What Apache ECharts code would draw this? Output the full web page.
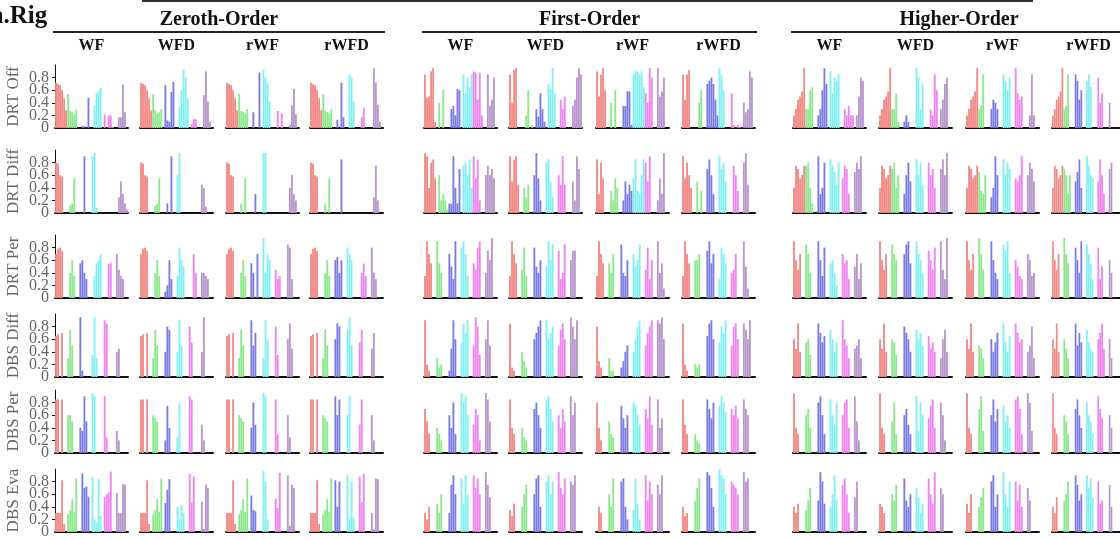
<!DOCTYPE html>
<html>
<head>
<meta charset="utf-8">
<script src="https://cdn.jsdelivr.net/npm/echarts@6/dist/echarts.min.js"></script>
<style>
  html, body { margin: 0; padding: 0; background: #fff; }
  #chart { width: 1120px; height: 540px; }
</style>
</head>
<body>
<div id="chart"></div>
<script>
// column / row labels
const orders = ["Zeroth-Order", "First-Order", "Higher-Order"];
const methods = ["WF", "WFD", "rWF", "rWFD"];
const rowNames = ["DRT Off", "DRT Diff", "DRT Per", "DBS Diff", "DBS Per", "DBS Eva"];
const yTicks = [0.2, 0.4, 0.6, 0.8];

// bar heights in percent, 6 groups x 6 bars, 12 panels per row (Z: WF WFD rWF rWFD, F: ..., H: ...)
const drtOff = [
  [72,70,68,60,47,28, 54,27,25,21,29,0, 0,3,3,0,48,0, 0,35,55,58,64,0, 21,0,20,20,2,0, 0,17,17,69,25,0],
  [72,70,68,60,47,28, 54,28,22,25,30,0, 68,12,10,57,73,0, 0,33,60,93,80,47, 0,7,14,14,0,0, 0,52,90,42,10,0],
  [72,70,68,60,47,28, 54,27,25,22,30,0, 0,25,0,0,88,0, 93,80,72,42,0,0, 0,27,0,23,0,0, 0,5,36,62,22,0],
  [72,70,68,60,47,28, 54,28,25,22,30,0, 0,13,0,72,17,0, 0,85,80,42,0,0, 0,17,32,0,0,0, 0,95,72,37,10,0],
  [85,48,50,90,95,10, 0,40,0,61,0,0, 0,30,35,20,62,60, 0,85,55,80,65,85, 90,88,45,88,20,0, 0,85,35,45,80,0],
  [85,40,92,95,0,0, 0,0,20,60,0,5, 0,30,18,55,30,10, 0,70,62,95,55,0, 0,45,30,50,0,0, 0,35,45,80,95,85],
  [90,50,85,95,60,0, 0,40,0,60,0,0, 0,35,35,58,58,5, 85,90,90,85,90,65, 55,40,95,80,0,0, 95,50,58,80,0,0],
  [85,45,85,92,0,0, 0,0,40,60,0,0, 70,75,80,70,45,20, 95,85,60,0,0,0, 55,5,0,5,2,0, 40,25,30,90,80,0],
  [20,30,45,50,58,95, 30,30,60,65,0,0, 20,30,60,95,70,0, 90,55,80,75,85,0, 0,30,20,35,20,20, 0,20,50,80,75,0],
  [20,30,45,50,58,95, 30,30,55,10,0,0, 10,20,10,0,0,0, 95,80,30,70,0,0, 0,30,20,85,60,0, 30,45,70,80,0,0],
  [20,30,45,50,58,95, 30,35,85,0,0,0, 30,45,40,30,0,0, 85,75,60,80,0,0, 95,55,45,50,0,0, 0,20,85,20,0,0],
  [20,30,45,50,58,95, 30,35,85,0,0,0, 85,75,45,60,0,0, 75,85,65,0,0,0, 80,40,55,0,0,0, 40,0,0,0,0,0]
];
const drtDiff = [
  [80,78,60,58,0,0, 0,12,15,55,0,0, 0,0,90,0,0,0, 90,95,8,0,0,0, 0,0,0,0,0,0, 0,25,50,30,15,5],
  [80,78,60,58,0,0, 0,12,15,55,0,0, 0,15,0,90,0,0, 60,95,0,0,0,0, 0,0,0,0,0,0, 45,40,10,0,0,0],
  [80,78,60,58,0,0, 0,15,0,55,0,0, 0,0,30,0,0,0, 95,95,0,0,0,0, 0,0,0,0,0,0, 0,40,60,30,20,0],
  [80,78,60,58,0,0, 0,15,0,55,0,0, 0,0,0,85,0,0, 0,0,0,0,0,0, 0,0,0,0,0,0, 0,25,75,20,0,0],
  [95,90,40,80,85,55, 0,60,20,30,20,5, 15,15,90,40,15,70, 0,75,80,60,85,40, 90,55,85,20,0,0, 60,75,60,70,55,0],
  [90,50,85,90,45,0, 0,40,25,45,0,0, 60,95,55,20,0,0, 80,85,50,25,0,0, 60,45,90,45,0,0, 0,50,20,90,70,0],
  [85,30,80,55,0,0, 0,35,20,55,40,0, 0,20,50,30,45,35, 55,85,35,30,60,85, 80,50,90,0,0,0, 20,55,30,95,0,0],
  [90,55,80,60,40,0, 0,50,0,35,0,0, 70,85,60,30,0,0, 90,70,80,50,0,0, 0,75,60,35,0,0, 80,95,45,0,0,0],
  [40,75,70,55,60,75, 75,80,40,15,0,0, 90,30,40,80,0,0, 85,75,65,45,80,0, 55,75,70,30,0,0, 65,80,70,90,0,0],
  [40,75,70,55,60,75, 70,80,40,60,0,0, 30,60,80,50,0,0, 85,60,80,45,0,0, 80,60,70,40,0,0, 70,85,60,95,0,0],
  [40,75,70,55,60,75, 65,35,30,60,0,0, 25,40,90,60,0,0, 85,60,80,70,0,0, 55,50,60,90,0,0, 60,80,70,50,0,0],
  [40,75,70,55,60,75, 70,60,30,60,0,0, 50,65,85,40,0,0, 90,75,60,55,0,0, 50,85,60,30,0,0, 70,80,0,0,0,0]
];
const drtPer = [
  [70,78,80,75,0,0, 0,40,60,35,0,0, 55,60,40,30,0,0, 0,35,55,60,70,0, 0,0,55,55,0,0, 70,45,35,30,0,0],
  [70,78,80,75,0,0, 0,40,60,35,0,0, 10,20,60,30,0,0, 35,80,60,50,0,0, 0,0,70,40,0,0, 40,40,35,30,0,0],
  [70,78,80,75,0,0, 0,40,60,35,0,0, 55,40,0,70,0,0, 95,40,70,60,0,0, 45,30,35,0,0,0, 85,80,30,0,0,0],
  [70,78,80,75,0,0, 0,40,60,35,0,0, 60,65,40,60,0,0, 80,70,60,0,0,0, 0,40,55,35,0,0, 80,40,30,0,0,0],
  [35,90,70,55,0,0, 90,55,40,0,0,0, 70,50,30,90,0,0, 80,90,70,35,0,0, 55,45,80,90,0,0, 40,75,60,95,0,0],
  [35,90,70,55,0,0, 45,80,35,0,0,0, 80,50,40,60,0,0, 50,90,60,85,0,0, 75,30,40,85,0,0, 60,75,75,0,0,0],
  [35,90,70,55,0,0, 55,40,70,0,0,0, 85,40,35,60,0,0, 70,50,60,85,0,0, 45,80,30,60,0,0, 90,40,55,15,0,0],
  [35,90,70,55,0,0, 60,60,70,0,0,0, 75,90,55,70,0,0, 30,80,70,55,0,0, 40,45,70,0,0,0, 90,50,15,0,0,0],
  [90,60,45,70,0,0, 85,70,40,0,0,0, 90,60,35,80,0,0, 55,60,40,20,0,0, 70,55,60,30,0,0, 50,70,30,55,0,0],
  [90,60,45,70,0,0, 85,70,60,0,0,0, 70,85,90,55,0,0, 90,70,60,40,0,0, 75,60,45,80,0,0, 90,45,30,95,0,0],
  [90,60,45,70,0,0, 95,70,45,0,0,0, 90,60,40,30,0,0, 85,75,90,40,0,0, 60,50,35,30,0,0, 70,60,35,40,0,0],
  [90,60,45,70,0,0, 95,70,55,0,0,0, 80,60,40,90,0,0, 85,70,55,30,0,0, 80,30,50,0,0,0, 60,40,0,0,0,0]
];
const dbsDiff = [
  [65,68,0,70,0,0, 30,75,50,0,0,0, 95,10,0,0,0,0, 35,95,30,0,0,0, 90,85,0,0,0,0, 40,45,0,0,0,0],
  [65,68,0,70,0,0, 30,75,50,0,0,0, 40,80,75,0,0,0, 40,90,50,0,0,0, 80,55,0,0,0,0, 40,95,0,0,0,0],
  [65,68,0,70,0,0, 30,75,50,0,0,0, 90,50,70,0,0,0, 30,90,60,0,0,0, 80,35,0,0,0,0, 60,85,45,0,0,0],
  [65,68,0,70,0,0, 30,75,50,0,0,0, 60,85,80,0,0,0, 75,95,50,0,0,0, 55,75,0,0,0,0, 45,70,0,0,0,0],
  [90,20,10,0,0,0, 30,15,20,0,0,0, 10,45,90,60,0,0, 55,85,70,90,0,0, 50,95,80,35,0,0, 60,90,50,0,0,0],
  [85,15,10,0,0,0, 40,25,15,0,0,0, 60,70,80,90,0,0, 90,60,70,80,0,0, 50,75,85,60,0,0, 95,80,60,90,0,0],
  [80,25,15,0,0,0, 30,10,10,0,0,0, 15,25,40,50,0,0, 40,60,80,90,0,0, 50,70,80,90,0,0, 90,85,95,60,0,0],
  [85,20,10,0,0,0, 20,15,20,0,0,0, 65,85,90,60,0,0, 55,80,70,90,0,0, 50,80,85,60,0,0, 85,75,60,90,0,0],
  [60,45,85,40,0,0, 55,60,35,0,0,0, 85,70,55,65,0,0, 75,60,40,55,0,0, 90,60,50,30,0,0, 45,50,60,30,0,0],
  [60,45,85,40,0,0, 60,55,35,0,0,0, 80,70,60,40,0,0, 75,60,70,50,0,0, 65,45,55,40,0,0, 30,60,75,40,0,0],
  [60,45,85,40,0,0, 50,45,30,0,0,0, 60,40,55,70,0,0, 85,55,40,65,0,0, 85,70,55,60,0,0, 40,50,80,30,0,0],
  [60,45,85,40,0,0, 60,45,30,0,0,0, 85,50,70,55,0,0, 75,55,45,40,0,0, 60,70,85,45,0,0, 60,30,0,0,0,0]
];
const dbsPer = [
  [85,85,0,85,0,0, 60,60,50,0,0,0, 40,35,90,50,0,0, 95,90,0,0,0,0, 90,25,0,0,0,0, 35,20,0,0,0,0],
  [85,85,0,85,0,0, 60,55,50,0,0,0, 20,75,40,0,0,0, 25,80,0,0,0,0, 90,85,0,0,0,0, 45,20,0,0,0,0],
  [85,85,0,85,0,0, 60,55,50,0,0,0, 40,80,45,0,0,0, 95,90,0,0,0,0, 85,30,0,0,0,0, 60,25,0,0,0,0],
  [85,85,0,85,0,0, 60,55,50,0,0,0, 90,60,85,0,0,0, 60,90,0,0,0,0, 45,85,0,0,0,0, 60,20,0,0,0,0],
  [70,50,30,0,0,0, 40,30,20,0,0,0, 60,40,80,30,0,0, 95,80,90,60,0,0, 45,70,60,20,0,0, 95,85,50,0,0,0],
  [85,40,30,0,0,0, 40,25,20,0,0,0, 70,80,60,40,0,0, 85,90,70,50,0,0, 60,40,70,50,0,0, 90,60,80,0,0,0],
  [80,40,20,0,0,0, 50,30,25,0,0,0, 75,55,40,60,0,0, 80,75,60,45,0,0, 70,55,90,45,0,0, 85,40,55,0,0,0],
  [85,45,30,0,0,0, 30,20,15,0,0,0, 85,70,55,80,0,0, 75,90,80,65,0,0, 70,60,75,55,0,0, 85,70,60,0,0,0],
  [95,40,30,0,0,0, 60,70,40,0,0,0, 80,90,60,30,0,0, 85,60,45,80,0,0, 60,80,85,40,0,0, 90,50,20,0,0,0],
  [95,40,30,0,0,0, 50,80,30,0,0,0, 60,70,45,30,0,0, 90,35,80,60,0,0, 55,75,85,40,0,0, 80,60,20,0,0,0],
  [95,40,30,0,0,0, 70,90,35,0,0,0, 60,85,50,70,0,0, 75,50,60,40,0,0, 85,90,70,30,0,0, 95,80,35,0,0,0],
  [95,40,30,0,0,0, 60,50,30,0,0,0, 70,85,60,40,0,0, 80,60,50,30,0,0, 90,70,55,0,0,0, 60,40,0,0,0,0]
];
const dbsEva = [
  [30,30,30,82,13,0, 28,35,52,32,85,0, 0,93,70,72,56,0, 88,20,15,84,25,0, 55,60,63,96,0,0, 62,30,30,76,75,0],
  [30,30,30,82,13,0, 28,35,52,32,85,0, 46,67,84,0,0,0, 40,20,42,30,0,0, 92,47,88,0,0,0, 48,5,75,70,0,0],
  [30,30,30,82,13,0, 28,35,52,32,85,0, 58,35,33,0,0,0, 97,80,20,0,0,0, 53,38,94,0,0,0, 90,10,75,70,0,0],
  [30,30,30,82,13,0, 28,35,52,32,85,0, 82,40,80,0,0,0, 90,20,80,23,0,0, 88,47,92,0,0,0, 30,5,85,84,0,0],
  [30,20,40,0,0,0, 45,30,60,0,0,0, 30,75,90,60,0,0, 85,45,90,60,0,0, 90,70,85,60,0,0, 95,75,55,0,0,0],
  [35,25,45,0,0,0, 40,60,75,0,0,0, 60,85,90,40,0,0, 80,90,60,80,0,0, 95,70,60,85,0,0, 80,75,90,0,0,0],
  [0,40,30,0,0,0, 60,40,85,0,0,0, 80,85,40,20,0,0, 35,85,45,20,0,0, 90,50,80,60,0,0, 75,60,90,0,0,0],
  [40,25,30,0,0,0, 50,70,85,0,0,0, 95,90,70,40,0,0, 100,90,85,60,0,0, 80,75,70,60,0,0, 95,80,85,0,0,0],
  [40,30,45,0,0,0, 35,50,70,0,0,0, 50,95,80,45,0,0, 40,60,90,50,0,0, 75,85,60,30,0,0, 55,80,0,0,0,0],
  [45,40,30,0,0,0, 60,50,75,0,0,0, 85,50,40,60,0,0, 70,55,30,45,0,0, 85,60,45,95,0,0, 70,60,0,0,0,0],
  [45,30,60,0,0,0, 40,55,70,0,0,0, 80,90,40,60,0,0, 95,60,40,80,0,0, 80,50,75,40,0,0, 70,50,0,0,0,0],
  [40,30,55,0,0,0, 50,60,80,0,0,0, 90,75,50,60,0,0, 90,70,85,55,0,0, 80,45,50,0,0,0, 75,40,0,0,0,0]
];
const rows = [drtOff, drtDiff, drtPer, dbsDiff, dbsPer, dbsEva];

const groupColors = ["#f28a86", "#8ce88c", "#7b7be6", "#80f0f0", "#ee84ee", "#b898cc"];
const serif = "'Liberation Serif', 'DejaVu Serif', serif";

// layout in px
const colLeft = [55, 140, 226, 310, 424, 509, 596, 682, 793, 879, 966, 1052];
const colWidth = 73;
const rowBottom = [128, 213, 298, 377, 453, 532];
const rowHeight = 63;

const chart = echarts.init(document.getElementById("chart"));

const labelStyle = { color: "#666", fontFamily: serif, fontSize: 16, margin: 6, hideOverlap: false };

const grids = [], xAxes = [], yAxes = [], series = [];
rows.forEach((panels, r) => {
  panels.forEach((vals, c) => {
    const idx = grids.length;
    grids.push({ left: colLeft[c], top: rowBottom[r] - rowHeight, width: colWidth, height: rowHeight });
    xAxes.push({
      type: "category", gridIndex: idx,
      data: vals.map((_, i) => i),
      axisLine: { show: true, lineStyle: { color: "#111", width: 2 } },
      axisTick: { show: false }, axisLabel: { show: false }
    });
    const first = c === 0;
    const yIdx = yAxes.length;
    yAxes.push({
      type: "value", gridIndex: idx, min: 0, max: 1, interval: 0.2,
      splitLine: { show: false },
      axisLine: { show: first, lineStyle: { color: "#111", width: 1 } },
      axisTick: { show: first, length: 3, lineStyle: { color: "#111" } },
      axisLabel: Object.assign({}, labelStyle, {
        show: first, showMinLabel: false, showMaxLabel: false,
        formatter: v => yTicks.some(t => Math.abs(t - v) < 1e-6) ? String(+v.toFixed(1)) : ""
      }),
      name: first ? rowNames[r] : "",
      nameLocation: "middle", nameRotate: 90, nameGap: 33,
      nameTextStyle: { color: "#666", fontFamily: serif, fontSize: 17 }
    });
    if (first) {
      // second axis on the same side only to carry the "0" label
      yAxes.push({
        type: "value", gridIndex: idx, min: 0, max: 1, interval: 1, position: "left",
        splitLine: { show: false }, axisLine: { show: false }, axisTick: { show: false },
        axisLabel: Object.assign({}, labelStyle, { formatter: v => v === 0 ? "0" : "" })
      });
    }
    series.push({
      type: "bar", xAxisIndex: idx, yAxisIndex: yIdx,
      barCategoryGap: "8%", animation: false, silent: true,
      itemStyle: { color: p => groupColors[Math.floor(p.dataIndex / 6)] },
      data: vals.map(v => v / 100)
    });
  });
});

const graphics = [];
// panel label, cut at the left edge
graphics.push({ type: "text", left: -9, top: 4,
  style: { text: "a.Rig", font: "bold 25px " + serif, fill: "#111" } });
// top rule from the panel above
graphics.push({ type: "line", shape: { x1: 142, y1: 1, x2: 1033, y2: 1 }, style: { stroke: "#333", lineWidth: 2 } });
orders.forEach((name, o) => {
  const x1 = colLeft[o * 4] - 2, x2 = colLeft[o * 4 + 3] + colWidth + 2;
  graphics.push({ type: "text", x: (x1 + x2) / 2, y: 20,
    style: { text: name, font: "bold 20px " + serif, fill: "#111", align: "center", verticalAlign: "middle" } });
  graphics.push({ type: "line", shape: { x1: x1, y1: 32, x2: x2, y2: 32 }, style: { stroke: "#222", lineWidth: 2 } });
  methods.forEach((m, k) => {
    const c = o * 4 + k;
    graphics.push({ type: "text", x: colLeft[c] + colWidth / 2, y: 46,
      style: { text: m, font: "bold 16px " + serif, fill: "#111", align: "center", verticalAlign: "middle" } });
  });
});

chart.setOption({
  animation: false,
  grid: grids, xAxis: xAxes, yAxis: yAxes, series: series,
  graphic: graphics
});
</script>
</body>
</html>
